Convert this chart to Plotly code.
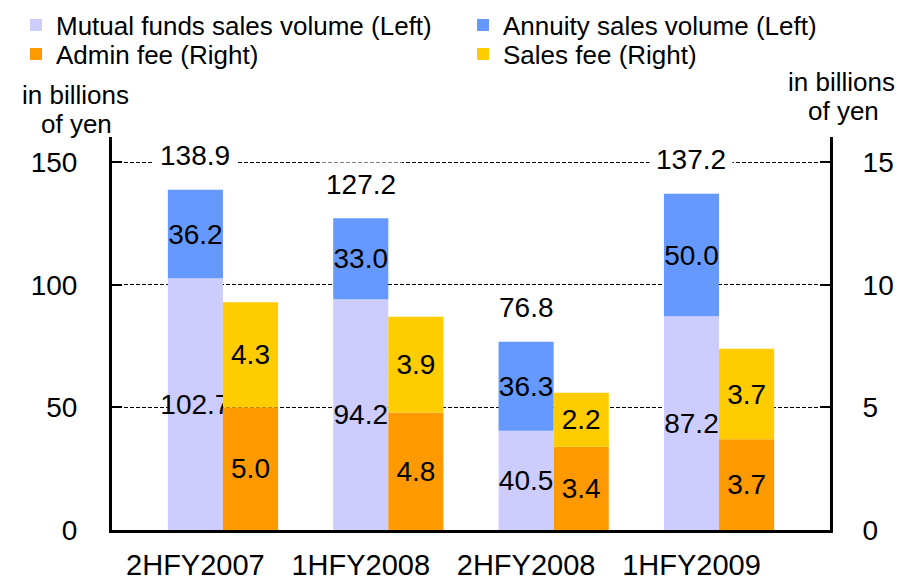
import plotly.graph_objects as go

categories = ["2HFY2007", "1HFY2008", "2HFY2008", "1HFY2009"]
mutual_funds = [102.7, 94.2, 40.5, 87.2]
annuity = [36.2, 33.0, 36.3, 50.0]
admin_fee = [5.0, 4.8, 3.4, 3.7]
sales_fee = [4.3, 3.9, 2.2, 3.7]
left_ticks = [0, 50, 100, 150]
right_ticks = [0, 5, 10, 15]

totals = [round(m + a, 1) for m, a in zip(mutual_funds, annuity)]

FONT = "Liberation Sans, Arial, sans-serif"
C_MF, C_AN, C_AD, C_SF = "#CCCCFF", "#6699FF", "#FF9900", "#FFCC00"
W = 1 / 3.0
idx = list(range(len(categories)))

# plot-area geometry in pixels (for converting legend/annotation placement)
PL, PR, PT, PB = 112, 830, 137, 530
def px_x(p):
    return (p - PL) / (PR - PL)
def px_y(p):
    return (PB - p) / (PB - PT)

fig = go.Figure()

def add_bar(name, y, base, color, offset, axis, legend):
    fig.add_trace(go.Bar(
        name=name, x=idx, y=y, base=base, width=W, offset=offset,
        marker=dict(color=color, line=dict(width=0)),
        text=[f"{v:.1f}" for v in y], textposition="inside", textangle=0,
        insidetextanchor="middle", constraintext="none",
        textfont=dict(family=FONT, size=28, color="black"),
        yaxis=axis, hoverinfo="skip", legend=legend))

add_bar("Mutual funds sales volume (Left)", mutual_funds, None, C_MF, -W, "y", "legend")
add_bar("Annuity sales volume (Left)", annuity, mutual_funds, C_AN, -W, "y", "legend2")
add_bar("Admin fee (Right)", admin_fee, None, C_AD, 0, "y2", "legend3")
add_bar("Sales fee (Right)", sales_fee, admin_fee, C_SF, 0, "y2", "legend4")

for i, t in zip(idx, totals):
    fig.add_annotation(x=i - W / 2, y=t, xref="x", yref="y", text=f"{t:.1f}",
                       showarrow=False, yshift=34, bgcolor="white", borderpad=6,
                       font=dict(family=FONT, size=28, color="black"))

unit_font = dict(family=FONT, size=26, color="black")
for text, cx, cy in [("in billions", 75, 95), ("of yen", 76, 124),
                     ("in billions", 841, 82), ("of yen", 843, 111)]:
    fig.add_annotation(xref="paper", yref="paper", x=px_x(cx), y=px_y(cy),
                       xanchor="center", yanchor="middle", text=text,
                       showarrow=False, font=unit_font)

def leg(x, y):
    return dict(x=px_x(x), y=px_y(y), xanchor="left", yanchor="middle",
                orientation="v", font=dict(family=FONT, size=26, color="black"),
                bgcolor="rgba(0,0,0,0)", itemclick=False, itemdoubleclick=False)

fig.update_layout(
    template="none",
    width=917, height=581,
    margin=dict(l=PL, r=917 - PR, t=PT, b=581 - PB, autoexpand=False),
    paper_bgcolor="white", plot_bgcolor="white",
    barmode="overlay",
    font=dict(family=FONT, size=28, color="black"),
    showlegend=True,
    legend=leg(16, 25),
    legend2=leg(463, 25),
    legend3=leg(16, 54),
    legend4=leg(463, 54),
    xaxis=dict(range=[-0.671, 3.671], tickmode="array",
               tickvals=[i - W / 2 for i in idx], ticktext=categories,
               showgrid=False, zeroline=False, showline=True, linecolor="black", linewidth=3,
               ticks="", ticklabelstandoff=7, automargin=False,
               tickfont=dict(family=FONT, size=29, color="black")),
    yaxis=dict(range=[0, 160.4], tickmode="array", tickvals=left_ticks,
               showgrid=True, gridcolor="black", gridwidth=1, griddash="4px,2px",
               zeroline=False, showline=True, linecolor="black", linewidth=3,
               ticks="inside", ticklen=10, tickwidth=2, tickcolor="black",
               ticklabelstandoff=26, automargin=False,
               tickfont=dict(family=FONT, size=28, color="black")),
    yaxis2=dict(range=[0, 16.04], tickmode="array", tickvals=right_ticks, overlaying="y",
                side="right", showgrid=False, zeroline=False, showline=True,
                linecolor="black", linewidth=3, ticks="inside", ticklen=10, tickwidth=2,
                tickcolor="black", ticklabelstandoff=24, automargin=False,
                tickfont=dict(family=FONT, size=28, color="black")),
)

fig.write_html("out.html", config={"displayModeBar": False},
               post_script="document.body.style.margin='0px';")
